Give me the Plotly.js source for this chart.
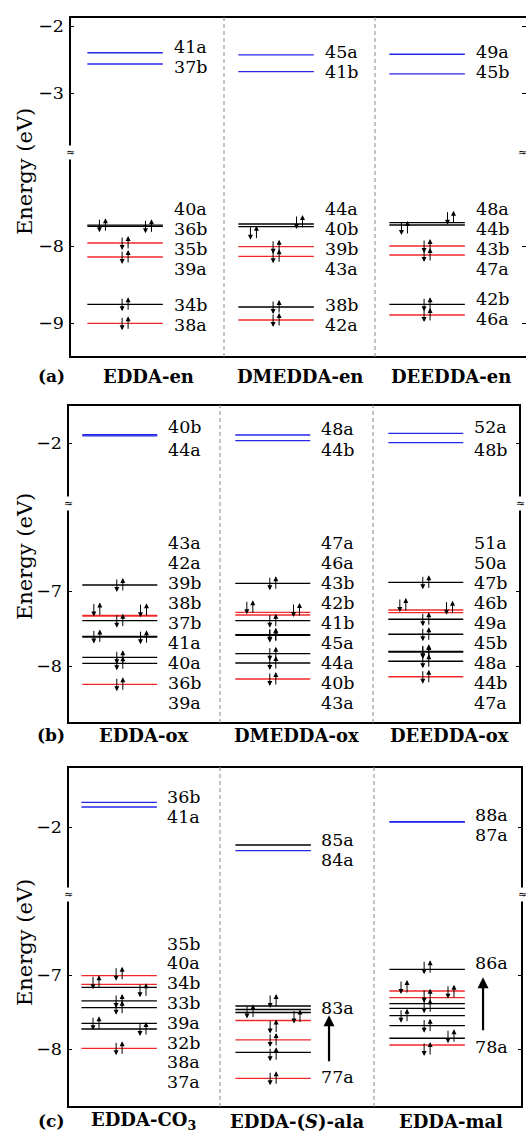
<!DOCTYPE html>
<html><head><meta charset="utf-8">
<script src="https://cdn.plot.ly/plotly-3.0.1.min.js"></script>
<style>html,body{margin:0;padding:0;background:#fff}#chart{width:526px;height:1137px}</style>
</head><body><div id="chart"></div>
<script>
// ===================== DATA =====================
const namesA = ['EDDA-en', 'DMEDDA-en', 'DEEDDA-en'];
const namesB = ['EDDA-ox', 'DMEDDA-ox', 'DEEDDA-ox'];
const namesC = ['EDDA-CO<sub>3</sub>', 'EDDA-(<i>S</i>)-ala', 'EDDA-mal'];
const panelTags = ['a', 'b', 'c'];

// kinds: 'u' unoccupied (blue), 'm' red levels, 'l' black levels
const a1Energy = [-2.399, -2.567, -7.730, -7.745, -7.961, -8.143, -8.757, -9.004];
const a1Kind   = ['u','u','l','l','m','m','l','m'];
const a1Labels = ['41a','37b','40a','36b','35b','39a','34b','38a'];

const a2Energy = [-2.430, -2.680, -7.714, -7.749, -8.009, -8.134, -8.792, -8.961];
const a2Kind   = ['u','u','l','l','m','m','l','m'];
const a2Labels = ['45a','41b','44a','40b','39b','43a','38b','42a'];

const a3Energy = [-2.422, -2.716, -7.697, -7.727, -8.000, -8.117, -8.757, -8.896];
const a3Kind   = ['u','u','l','l','m','m','l','m'];
const a3Labels = ['49a','45b','48a','44b','43b','47a','42b','46a'];

const b1Energy = [-1.890, -1.905, -6.920, -7.325, -7.335, -7.396, -7.605, -7.615, -7.884, -7.964, -8.244];
const b1Kind   = ['u','u','l','m','m','l','l','l','l','l','m'];
const b1Labels = ['40b','44a','43a','42a','39b','38b','37b','41a','40a','36b','39a'];

const b2Energy = [-1.893, -1.969, -6.897, -7.284, -7.320, -7.396, -7.582, -7.592, -7.836, -7.960, -8.173];
const b2Kind   = ['u','u','l','m','m','l','l','l','l','l','m'];
const b2Labels = ['48a','44b','47a','46a','43b','42b','41b','45a','44a','40b','43a'];

const b3Energy = [-1.871, -1.996, -6.884, -7.253, -7.289, -7.377, -7.577, -7.804, -7.814, -7.937, -8.143];
const b3Kind   = ['u','u','l','m','m','l','l','l','l','l','m'];
const b3Labels = ['52a','48b','51a','50a','47b','46b','49a','45b','48a','44b','47a'];

const c1Energy = [-1.666, -1.730, -7.009, -7.126, -7.166, -7.351, -7.442, -7.653, -7.730, -7.991];
const c1Kind   = ['u','u','m','m','l','l','l','l','l','m'];
const c1Labels = ['36b','41a','35b','40a','34b','33b','39a','32b','38a','37a'];

const c2Energy = [-2.243, -2.320, -7.419, -7.466, -7.507, -7.615, -7.878, -8.045, -8.396];
const c2Kind   = ['l','u','l','l','l','m','m','l','m'];
const c2Labels = ['85a','84a','83a','77a'];

const c3Energy = [-1.928, -1.935, -6.923, -7.216, -7.307, -7.388, -7.450, -7.550, -7.685, -7.855, -7.946];
const c3Kind   = ['u','u','l','m','m','l','l','l','l','l','m'];
const c3Labels = ['88a','87a','86a','78a'];

const upperTicksA = [-2, -3], lowerTicksA = [-8, -9];
const upperTicksB = [-2],     lowerTicksB = [-7, -8];
const upperTicksC = [-2],     lowerTicksC = [-7, -8];

// ===================== STYLE / LAYOUT =====================
const W = 526, H = 1137;
const FONT = 'DejaVu Serif';
const LABEL_SIZE = 17.5, TICK_SIZE = 17.5, NAME_SIZE = 18, TITLE_SIZE = 21, TAG_SIZE = 17;
const COLORS = { u: '#2626e8', m: '#f02828', l: '#000000' };
const BREAK = -5;              // levels above go on the upper (broken) segment
const PAIRX = { L: 0.195, C: 0.345, R: 0.50 };

const panels = [
  { names: namesA, upTicks: upperTicksA, loTicks: lowerTicksA,
    geo: { left: 70, right: 528, sep: [224, 375], top: 17, brk: 152, bottom: 357,
           up: [-2, 26, 67], lo: [-8, 246, 77], nameY: 376, titleY: 172, line: [0.095, 0.595], labX: 0.662 },
    cols: [
      { E: a1Energy, K: a1Kind, L: a1Labels, groups: [[0,2,-2.309,20],[2,4,-7.523,20],[6,2,-8.766,20]],
        pairs: ['L','R','C','C','C','C'] },
      { E: a2Energy, K: a2Kind, L: a2Labels, groups: [[0,2,-2.384,20],[2,4,-7.523,20],[6,2,-8.766,20]],
        pairs: ['R+2','L-6','C','C','C','C'] },
      { E: a3Energy, K: a3Kind, L: a3Labels, groups: [[0,2,-2.384,20],[2,4,-7.523,20],[6,2,-8.692,20]],
        pairs: ['R+5','L-3','C','C','C','C'] } ] },
  { names: namesB, upTicks: upperTicksB, loTicks: lowerTicksB,
    geo: { left: 68, right: 520, sep: [220, 373], top: 405, brk: 503, bottom: 723,
           up: [-2, 443, 75], lo: [-7, 591, 75], nameY: 735, titleY: 557, line: [0.10, 0.59], labX: 0.652 },
    cols: [
      { E: b1Energy, K: b1Kind, L: b1Labels, groups: [[0,2,-1.790,22.7],[2,9,-6.364,19.9]],
        pairs: ['C','L+6','R+6','C','L','R','C','C','C'] },
      { E: b2Energy, K: b2Kind, L: b2Labels, groups: [[0,2,-1.817,20.7],[2,9,-6.364,19.9]],
        pairs: ['C','L+5','R+5','C','C','C','C','C','C'] },
      { E: b3Energy, K: b3Kind, L: b3Labels, groups: [[0,2,-1.783,23.3],[2,9,-6.364,19.9]],
        pairs: ['C','L+5','R+5','C','C','C','C','C','C'] } ] },
  { names: namesC, upTicks: upperTicksC, loTicks: lowerTicksC,
    geo: { left: 68, right: 522, sep: [220, 374], top: 767, brk: 894, bottom: 1107,
           up: [-2, 827, 74], lo: [-7, 975, 74], nameY: 1121, titleY: 943, line: [0.10, 0.59], labX: 0.652 },
    cols: [
      { E: c1Energy, K: c1Kind, L: c1Labels, groups: [[0,2,-1.591,20],[2,8,-6.575,19.8]],
        pairs: ['C+2','L+2','R-3','C','C','L','R','C'] },
      { E: c2Energy, K: c2Kind, L: c2Labels, groups: [[0,2,-2.176,20],[2,1,-7.450,0],[3,1,-8.374,0]],
        pairs: ['C+5','L-2','R-4','C-6','C','C-2','C'],
        transition: { from: '77a', to: '83a', headGap: 7, tailGap: 14, x: 0.708 } },
      { E: c3Energy, K: c3Kind, L: c3Labels, groups: [[0,2,-1.838,20],[2,1,-6.842,0],[3,1,-7.969,0]],
        pairs: ['C+2','L+4','R+6','C+8','C+2','L','C','R+2','C-4'],
        transition: { from: '78a', to: '86a', headGap: 14, tailGap: 15, x: 0.708 } } ] }
];

// ===================== BUILD =====================
const ref = (l, n) => (n === 1 ? l : l + n);
const key = (l, n) => l + 'axis' + (n === 1 ? '' : n);

const data = [], annotations = [], shapes = [];
const layout = {
  width: W, height: H, margin: { l: 0, r: 0, t: 0, b: 0 },
  paper_bgcolor: '#fff', plot_bgcolor: 'rgba(0,0,0,0)', showlegend: false,
  font: { family: FONT, color: '#000', size: LABEL_SIZE }
};

panels.forEach((p, i) => {
  const g = p.geo;
  const xn = i + 1, yu = 2 * i + 1, yl = 2 * i + 2;
  const xa = ref('x', xn), yaU = ref('y', yu), yaL = ref('y', yl);
  const unit = g.sep[1] - g.sep[0];
  const xAt = px => 1 + (px - g.sep[0]) / unit;
  const xRight = Math.min(g.right, W);

  layout[key('x', xn)] = { domain: [g.left / W, xRight / W], range: [xAt(g.left), xAt(xRight)],
    visible: false, anchor: yaL, fixedrange: true };
  const yAxisBase = { anchor: xa, showgrid: false, zeroline: false, showline: false,
    ticks: 'inside', ticklen: 4, tickwidth: 1, tickcolor: '#000', mirror: 'ticks',
    tickfont: { family: FONT, size: TICK_SIZE, color: '#000' }, ticklabelstandoff: 5, fixedrange: true };
  layout[key('y', yu)] = Object.assign({}, yAxisBase, {
    domain: [1 - g.brk / H, 1 - g.top / H],
    range: [g.up[0] - (g.brk - g.up[1]) / g.up[2], g.up[0] + (g.up[1] - g.top) / g.up[2]],
    tickvals: p.upTicks });
  layout[key('y', yl)] = Object.assign({}, yAxisBase, {
    domain: [1 - g.bottom / H, 1 - g.brk / H],
    range: [g.lo[0] - (g.bottom - g.lo[1]) / g.lo[2], g.lo[0] + (g.lo[1] - g.brk) / g.lo[2]],
    tickvals: p.loTicks });
  const pxPerEvLo = g.lo[2];

  // level lines
  const groupsMap = {};
  p.cols.forEach((col, c) => {
    col.E.forEach((e, k) => {
      const ax = e > BREAK ? yaU : yaL;
      const kk = ax + '|' + col.K[k];
      if (!groupsMap[kk]) groupsMap[kk] = { x: [], y: [], ax: ax, kind: col.K[k] };
      groupsMap[kk].x.push(c + g.line[0], c + g.line[1], null);
      groupsMap[kk].y.push(e, e, null);
    });

    // electron pairs on occupied levels
    const occ = col.E.filter(e => e <= BREAK);
    occ.forEach((e, j) => {
      const spec = col.pairs[j];
      if (!spec) return;
      const m = spec.match(/^([LCR])([+-]\d+(?:\.\d+)?)?$/);
      const xp = c + PAIRX[m[1]];
      const off = m[2] ? parseFloat(m[2]) : 0;
      const base = { xref: xa, yref: yaL, x: xp, y: e, text: '', showarrow: true,
        arrowhead: 2, arrowsize: 1, arrowwidth: 1, arrowcolor: '#000',
        axref: 'pixel', ayref: 'pixel', ax: 0, standoff: 0, startstandoff: 0 };
      annotations.push(Object.assign({}, base, { xshift: -3, yshift: off - 7, ay: -14 }));
      annotations.push(Object.assign({}, base, { xshift: 3, yshift: off + 7, ay: 14 }));
    });

    // orbital labels
    const labelY = {};
    col.groups.forEach(([start, n, anchor, step]) => {
      for (let k = 0; k < n; k++) {
        const ax = anchor > BREAK ? yaU : yaL;
        const txt = col.L[start + k];
        labelY[txt] = { y: anchor, shift: -step * k, ax: ax };
        annotations.push({ xref: xa, yref: ax, x: c + g.labX, y: anchor, yshift: -step * k,
          text: txt, showarrow: false, xanchor: 'left', yanchor: 'middle', borderpad: 0,
          font: { family: FONT, size: LABEL_SIZE, color: '#000' } });
      }
    });

    // transition arrow
    if (col.transition) {
      const t = col.transition;
      const head = labelY[t.to].y - t.headGap / pxPerEvLo;
      const tail = labelY[t.from].y + t.tailGap / pxPerEvLo;
      annotations.push({ xref: xa, yref: yaL, x: c + t.x, y: head, axref: xa, ayref: yaL,
        ax: c + t.x, ay: tail, text: '', showarrow: true, arrowhead: 2, arrowsize: 1,
        arrowwidth: 2.2, arrowcolor: '#000', standoff: 0 });
    }

    // compound names
    annotations.push({ xref: xa, yref: 'paper', x: c + 0.5, y: 1 - g.nameY / H,
      text: '<b>' + p.names[c] + '</b>', showarrow: false, xanchor: 'center', yanchor: 'middle',
      font: { family: FONT, size: NAME_SIZE, color: '#000' } });
  });

  Object.values(groupsMap).forEach(gr => {
    data.push({ type: 'scatter', mode: 'lines', x: gr.x, y: gr.y, xaxis: xa, yaxis: gr.ax,
      line: { color: COLORS[gr.kind], width: 1.3 }, hoverinfo: 'skip', connectgaps: false });
  });

  // frame
  shapes.push({ type: 'rect', xref: 'paper', yref: 'paper', x0: g.left / W, x1: g.right / W,
    y0: 1 - g.bottom / H, y1: 1 - g.top / H, line: { color: '#000', width: 2 }, fillcolor: 'rgba(0,0,0,0)' });
  // column separators
  [1, 2].forEach(s => shapes.push({ type: 'line', xref: xa, yref: 'paper', x0: s, x1: s,
    y0: 1 - g.bottom / H, y1: 1 - g.top / H, line: { color: '#8a8a8a', width: 1, dash: '4px,3px' } }));
  // axis breaks
  [g.left, Math.min(g.right, W - 4)].forEach(xp => annotations.push({ xref: 'paper', yref: 'paper', x: xp / W,
    y: 1 - g.brk / H, text: '≈', showarrow: false, bgcolor: '#fff', borderpad: 0,
    xanchor: 'center', yanchor: 'middle', font: { family: FONT, size: 11, color: '#000' } }));
  // axis title
  annotations.push({ xref: 'paper', yref: 'paper', x: 25 / W, y: 1 - g.titleY / H,
    text: 'Energy (eV)', textangle: -90, showarrow: false, xanchor: 'center', yanchor: 'middle',
    font: { family: FONT, size: TITLE_SIZE, color: '#000' } });
  // panel tag
  annotations.push({ xref: 'paper', yref: 'paper', x: 51 / W, y: 1 - g.nameY / H,
    text: '<b>(' + panelTags[i] + ')</b>', showarrow: false, xanchor: 'center', yanchor: 'middle',
    font: { family: FONT, size: TAG_SIZE, color: '#000' } });
});

layout.annotations = annotations;
layout.shapes = shapes;
Plotly.newPlot('chart', data, layout, { displayModeBar: false, staticPlot: true });
</script></body></html>
